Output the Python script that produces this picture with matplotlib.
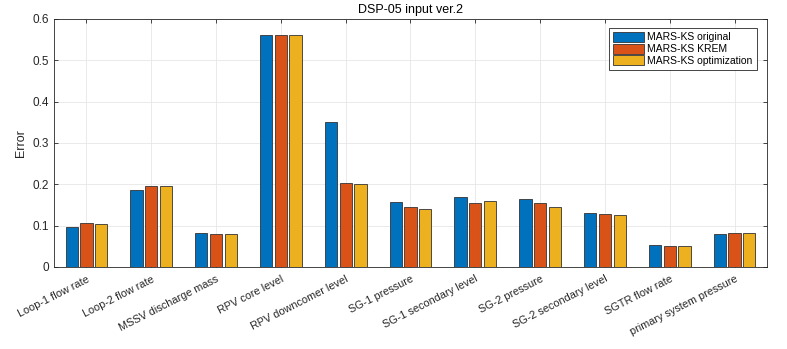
import matplotlib.pyplot as plt
import numpy as np

plt.rcParams['font.family'] = ['Liberation Sans', 'DejaVu Sans']

categories = ['Loop-1 flow rate', 'Loop-2 flow rate', 'MSSV discharge mass',
              'RPV core level', 'RPV downcomer level', 'SG-1 pressure',
              'SG-1 secondary level', 'SG-2 pressure', 'SG-2 secondary level',
              'SGTR flow rate', 'primary system pressure']
original = [0.097, 0.186, 0.081, 0.562, 0.350, 0.157, 0.169, 0.165, 0.131, 0.052, 0.079]
krem = [0.106, 0.197, 0.080, 0.561, 0.202, 0.146, 0.155, 0.155, 0.127, 0.050, 0.082]
optim = [0.105, 0.196, 0.080, 0.561, 0.201, 0.139, 0.159, 0.144, 0.125, 0.050, 0.082]
series = [('MARS-KS original', original, '#0072BD'),
          ('MARS-KS KREM', krem, '#D95319'),
          ('MARS-KS optimization', optim, '#EDB120')]

fig = plt.figure(figsize=(7.87, 3.49), dpi=100)
ax = fig.add_axes([0.0686, 0.235, 0.906, 0.711])

x = np.arange(1, len(categories) + 1)
offsets = [-0.227, 0.0, 0.227]
for (name, vals, color), off in zip(series, offsets):
    ax.bar(x + off, vals, width=0.19, color=color, edgecolor='#333333',
           linewidth=0.6, label=name, zorder=3)

ax.set_xlim(0.5, 11.5)
ax.set_ylim(0, 0.6)
ax.set_yticks(np.arange(0, 0.61, 0.1))
ax.set_yticklabels(['0', '0.1', '0.2', '0.3', '0.4', '0.5', '0.6'])
ax.set_xticks(x)
ax.set_xticklabels(categories, rotation=27, ha='right', rotation_mode='anchor',
                   fontsize=7.8, color='#262626')
ax.tick_params(axis='x', pad=5)
ax.tick_params(direction='in', top=True, right=True, length=3, width=0.6,
               colors='#262626')
ax.tick_params(axis='y', labelsize=8.5)
ax.grid(True, color='#e6e6e6', linewidth=0.6, zorder=0)
for s in ax.spines.values():
    s.set_color('#262626')
    s.set_linewidth(0.6)

ax.set_ylabel('Error', fontsize=9, color='#262626')
ax.set_title('DSP-05 input ver.2', fontsize=9, pad=4)

leg = ax.legend(loc='upper right', fontsize=7.5, handlelength=3.0,
                handleheight=1.1, borderpad=0.4, labelspacing=0.1,
                handletextpad=0.3, fancybox=False, framealpha=1,
                bbox_to_anchor=(0.993, 0.985))
leg.get_frame().set_edgecolor('#262626')
leg.get_frame().set_linewidth(0.6)

fig.savefig('out.png', dpi=100)
